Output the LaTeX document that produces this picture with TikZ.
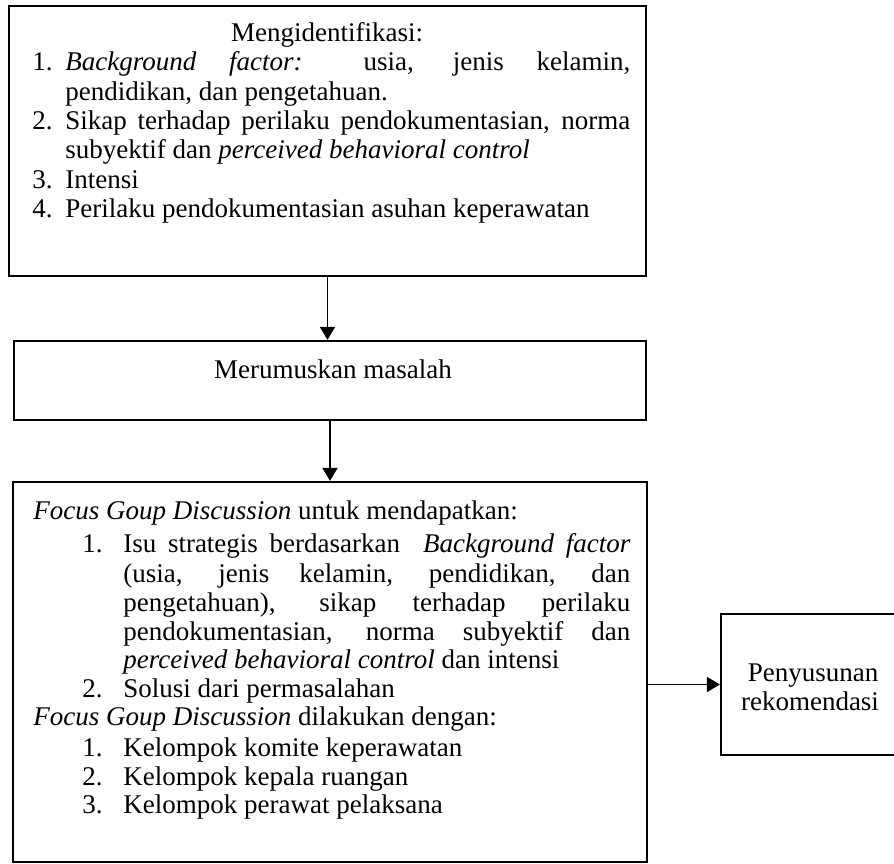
\documentclass[tikz,border=0pt]{standalone}
\usepackage{fontspec}
\setmainfont{Liberation Serif}
\usetikzlibrary{arrows.meta,fit}
% a row of text stretched to a fixed width (justified line)
\newcommand\justrow[2]{\hbox to #1{#2}}
\begin{document}
\begin{tikzpicture}[x=0.5pt,y=-0.5pt,
  box/.style={draw, line width=1.1pt, inner sep=0pt},
  txt/.style={anchor=base west, inner sep=0pt, font=\fontsize{13.5}{15}\selectfont},
  ctxt/.style={anchor=base, inner sep=0pt, font=\fontsize{13.5}{15}\selectfont},
  flow/.style={draw, line width=0.8pt, -{Triangle[length=6.5pt,width=7.5pt]}}]
\useasboundingbox (0,0) rectangle (894,863);

% boxes
\node[box, fit={(9,6) (646,276)}] (b1) {};
\node[box, fit={(14,341) (646,420)}] (b2) {};
\node[box, fit={(13,482) (647,862)}] (b3) {};
\node[box, fit={(721,614) (900,755)}] (b4) {};

% box 1: identification
\node[ctxt] (t1) at (327,41) {Mengidentifikasi:};
\node[txt] (n1) at (32,70) {1.};
\node[txt] (t2) at (65,70) {\justrow{282.5pt}{\textit{Background} \textit{factor:} usia, jenis kelamin,}};
\node[txt] (t3) at (65,100) {pendidikan, dan pengetahuan.};
\node[txt] (n2) at (32,129) {2.};
\node[txt] (t4) at (65,129) {\justrow{282.5pt}{Sikap terhadap perilaku pendokumentasian, norma}};
\node[txt] (t5) at (65,158) {subyektif dan \textit{perceived behavioral control}};
\node[txt] (n3) at (32,188) {3.};
\node[txt] (t6) at (65,188) {Intensi};
\node[txt] (n4) at (32,217) {4.};
\node[txt] (t7) at (65,217) {Perilaku pendokumentasian asuhan keperawatan};

% box 2
\node[ctxt] (m) at (333,378) {Merumuskan masalah};

% box 3: focus group discussion
\node[txt] (f1) at (33,519) {\textit{Focus Goup Discussion} untuk mendapatkan:};
\node[txt] (k1) at (82,552) {1.};
\node[txt] (f2) at (123,552) {\justrow{253.5pt}{Isu strategis berdasarkan\ \ \textit{Background factor}}};
\node[txt] (f3) at (123,582) {\justrow{253.5pt}{(usia, jenis kelamin, pendidikan, dan}};
\node[txt] (f4) at (123,611) {\justrow{253.5pt}{pengetahuan), sikap terhadap perilaku}};
\node[txt] (f5) at (123,640) {\justrow{253.5pt}{pendokumentasian, norma subyektif dan}};
\node[txt] (f6) at (123,668) {\textit{perceived behavioral control} dan intensi};
\node[txt] (k2) at (82,697) {2.};
\node[txt] (f7) at (123,697) {Solusi dari permasalahan};
\node[txt] (f8) at (33,725) {\textit{Focus Goup Discussion} dilakukan dengan:};
\node[txt] (k3) at (82,756) {1.};
\node[txt] (f9) at (123,756) {Kelompok komite keperawatan};
\node[txt] (k4) at (82,785) {2.};
\node[txt] (f10) at (123,785) {Kelompok kepala ruangan};
\node[txt] (k5) at (82,813) {3.};
\node[txt] (f11) at (123,813) {Kelompok perawat pelaksana};

% box 4
\node[ctxt] (r1) at (813,681) {Penyusunan};
\node[ctxt] (r2) at (810,710) {rekomendasi};

% connectors
\draw[flow] (b1.south) -- (b1.south |- b2.north);
\draw[flow] (b2.south) -- (b2.south |- b3.north);
\draw[flow] (b3.east |- b4.west) -- (b4.west);
\end{tikzpicture}
\end{document}
